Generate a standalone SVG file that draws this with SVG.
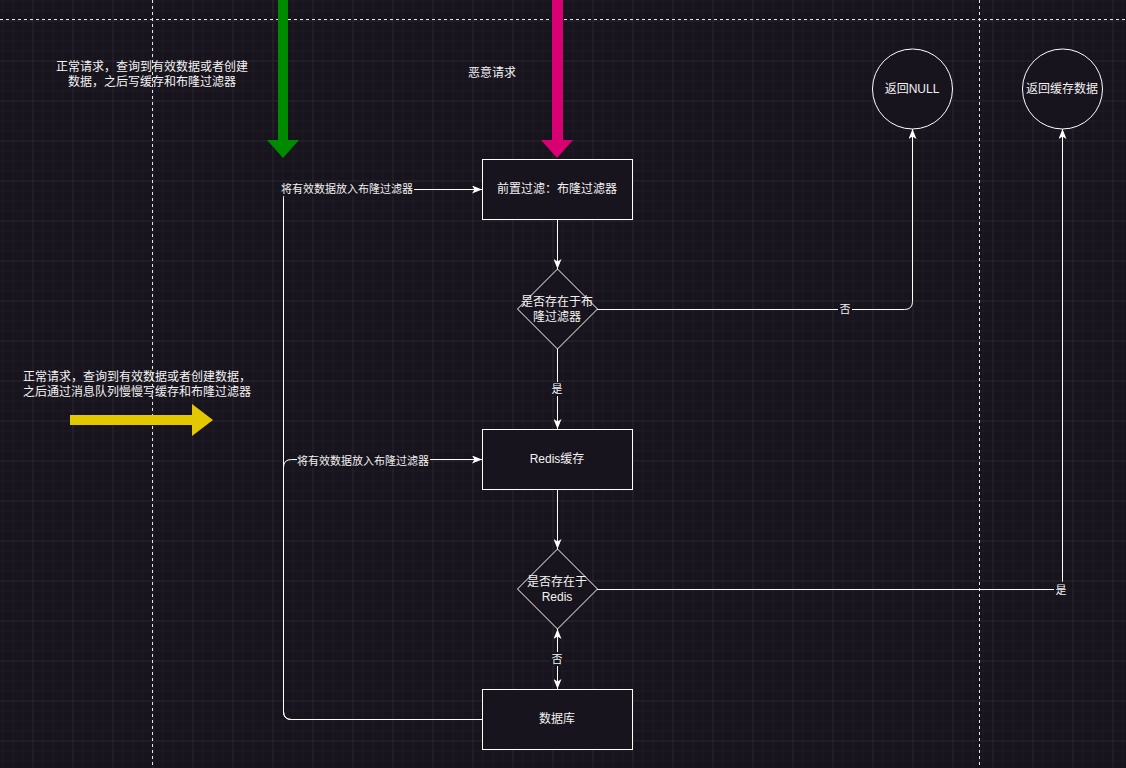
<svg xmlns="http://www.w3.org/2000/svg" width="1126" height="768" viewBox="0 0 1126 768">
<style>
text{font-family:"Liberation Sans","Noto Sans CJK SC",sans-serif;fill:#f2f2f2;}
.n{font-size:12px;text-anchor:middle;}
.l{font-size:11px;text-anchor:middle;}
.box{fill:#18141d;stroke:#ffffff;stroke-width:1;}
.e{fill:none;stroke:#ffffff;stroke-width:1;}
.lb{fill:#18141d;}
.dash{stroke:#e6e6e6;stroke-width:1;stroke-dasharray:3,3;fill:none;}
</style>
<defs>
<pattern id="minor" patternUnits="userSpaceOnUse" width="10" height="10" x="2.5" y="0.5">
<path d="M0,0 H10 M0,0 V10" stroke="#231f29" stroke-width="1" fill="none"/>
</pattern>
<pattern id="major" patternUnits="userSpaceOnUse" width="40" height="40" x="32.5" y="20.5">
<path d="M0,0 H40 M0,0 V40" stroke="#34303a" stroke-width="1" fill="none"/>
</pattern>
<marker id="arr" viewBox="0 0 10 8" refX="10" refY="4" markerUnits="userSpaceOnUse" markerWidth="10" markerHeight="8" orient="auto-start-reverse">
<path d="M0,0 L10,4 L0,8 L2.5,4 Z" fill="#ffffff"/>
</marker>
</defs>
<rect width="1126" height="768" fill="#18141d"/>
<rect width="1126" height="768" fill="url(#minor)"/>
<rect width="1126" height="768" fill="url(#major)"/>

<g id="separators">
<path class="dash" d="M0,19.5 H1126"/>
<path class="dash" d="M152.5,0 V768"/>
<path class="dash" d="M979.5,0 V768"/>
</g>

<g id="big-arrows">
<polygon id="green-arrow" points="278,0 288,0 288,140 299,140 283,158 267,140 278,140" fill="#008a00"/>
<polygon id="pink-arrow" points="552,0 563,0 563,140 573,140 557,158 541,140 552,140" fill="#d80073"/>
<polygon id="yellow-arrow" points="70,415 192,415 192,404 213,420 192,436 192,425 70,425" fill="#e3c800"/>
</g>

<g id="free-texts">
<text class="n" x="152" y="71">正常请求，查询到有效数据或者创建</text>
<text class="n" x="152" y="86">数据，之后写缓存和布隆过滤器</text>
<text class="n" x="492" y="77">恶意请求</text>
<text class="n" x="137" y="381">正常请求，查询到有效数据或者创建数据，</text>
<text class="n" x="137" y="396">之后通过消息队列慢慢写缓存和布隆过滤器</text>
</g>

<g id="connectors">
<path class="e" d="M557.5,219 V269" marker-end="url(#arr)"/>
<path class="e" d="M597,309.5 H904.5 Q912.5,309.5 912.5,301.5 V129" marker-end="url(#arr)"/>
<path class="e" d="M557.5,349 V429" marker-end="url(#arr)"/>
<path class="e" d="M557.5,489 V549" marker-end="url(#arr)"/>
<path class="e" d="M597,589.5 H1054.5 Q1062.5,589.5 1062.5,581.5 V129" marker-end="url(#arr)"/>
<path class="e" d="M557.5,629 V689" marker-start="url(#arr)" marker-end="url(#arr)"/>
<path class="e" d="M482,719.5 H291.5 Q283.5,719.5 283.5,711.5 V197.5 Q283.5,189.5 291.5,189.5 H482" marker-end="url(#arr)"/>
<path class="e" d="M482,719.5 H291.5 Q283.5,719.5 283.5,711.5 V467.5 Q283.5,459.5 291.5,459.5 H482" marker-end="url(#arr)"/>
<rect class="lb" x="838" y="302" width="14" height="14"/>
<text class="l" x="845" y="313">否</text>
<rect class="lb" x="550" y="382" width="14" height="14"/>
<text class="l" x="557" y="393">是</text>
<rect class="lb" x="1054" y="582" width="14" height="14"/>
<text class="l" x="1061" y="594">是</text>
<rect class="lb" x="550" y="652" width="14" height="14"/>
<text class="l" x="557" y="663">否</text>
<rect class="lb" x="281" y="182" width="133" height="14"/>
<text class="l" x="347" y="193">将有效数据放入布隆过滤器</text>
<rect class="lb" x="297" y="454" width="133" height="14"/>
<text class="l" x="363" y="465">将有效数据放入布隆过滤器</text>
</g>

<g id="node-prefilter">
<rect class="box" x="482.5" y="159.5" width="150" height="60"/>
<text class="n" x="557" y="193">前置过滤：布隆过滤器</text>
</g>
<g id="node-bloom-check">
<polygon class="box" points="557.5,269 597.5,309 557.5,349 517.5,309"/>
<text class="n" x="557" y="306">是否存在于布</text>
<text class="n" x="557" y="321">隆过滤器</text>
</g>
<g id="node-redis">
<rect class="box" x="482.5" y="429.5" width="150" height="60"/>
<text class="n" x="557" y="463">Redis缓存</text>
</g>
<g id="node-redis-check">
<polygon class="box" points="557.5,549 597.5,589 557.5,629 517.5,589"/>
<text class="n" x="557" y="586">是否存在于</text>
<text class="n" x="557" y="601">Redis</text>
</g>
<g id="node-db">
<rect class="box" x="482.5" y="689.5" width="150" height="60"/>
<text class="n" x="557" y="723">数据库</text>
</g>
<g id="node-return-null">
<circle class="box" cx="912.5" cy="89" r="40"/>
<text class="n" x="912" y="93">返回NULL</text>
</g>
<g id="node-return-cache">
<circle class="box" cx="1062.5" cy="89" r="40"/>
<text class="n" x="1062" y="93">返回缓存数据</text>
</g>
</svg>
